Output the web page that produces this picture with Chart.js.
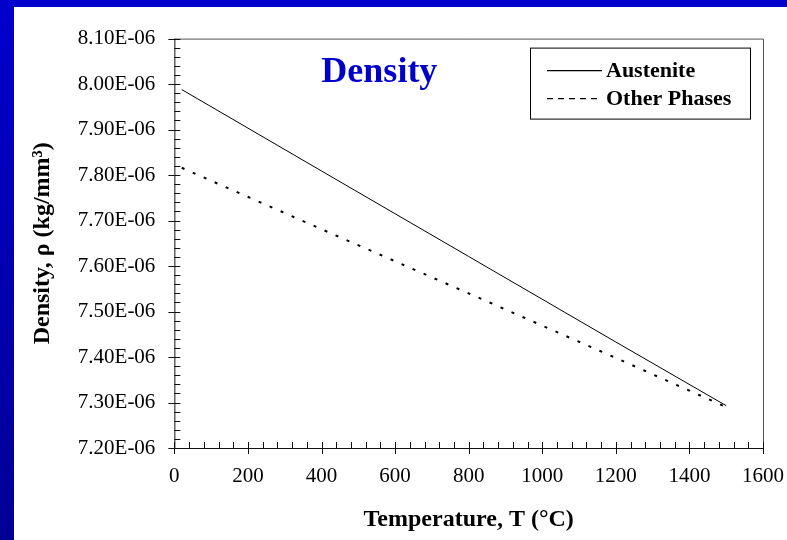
<!DOCTYPE html>
<html>
<head>
<meta charset="utf-8">
<script src="https://cdn.jsdelivr.net/npm/chart.js@4/dist/chart.umd.min.js"></script>
<style>
  html, body { margin: 0; padding: 0; }
  body { width: 787px; height: 540px; background: linear-gradient(to bottom, #0000cc, #000096); position: relative; overflow: hidden; }
  #wrap { position: absolute; left: 14px; top: 7px; width: 773px; height: 533px; background: #fff; }
</style>
</head>
<body>
<div id="wrap"><canvas id="canvas"></canvas></div>
<script>
// temperature in degrees C, density in kg/mm^3
var temps = [20, 400, 800, 1200, 1500];
var austenite = [7.988e-6, 7.809e-6, 7.621e-6, 7.433e-6, 7.293e-6];
var otherPhases = [7.816e-6, 7.681e-6, 7.540e-6, 7.398e-6, 7.290e-6];
var seriesNames = ['Austenite', 'Other Phases'];
var yTicks = [7.2e-6, 7.3e-6, 7.4e-6, 7.5e-6, 7.6e-6, 7.7e-6, 7.8e-6, 7.9e-6, 8.0e-6, 8.1e-6];
var xTicks = [0, 200, 400, 600, 800, 1000, 1200, 1400, 1600];

var serif = "'Liberation Serif', 'Times New Roman', serif";

function sci(v) {
  var e = Math.floor(Math.log10(Math.abs(v)) + 1e-9);
  var m = (v / Math.pow(10, e)).toFixed(2);
  var s = e < 0 ? '-' : '+';
  var ae = Math.abs(e);
  return m + 'E' + s + (ae < 10 ? '0' : '') + ae;
}

function pts(ys) {
  return temps.map(function (t, i) { return { x: t, y: ys[i] }; });
}

// frame, minor/major ticks, in-plot title and boxed legend
var decor = {
  id: 'decor',
  afterDraw: function (chart) {
    var c = chart.ctx, a = chart.chartArea;
    var xs = chart.scales.x, ys = chart.scales.y;
    c.save();
    c.lineWidth = 1;
    c.strokeStyle = '#555';
    c.beginPath();
    c.moveTo(a.left, a.top + 0.5); c.lineTo(a.right + 0.5, a.top + 0.5);
    c.lineTo(a.right + 0.5, a.bottom);
    c.stroke();
    c.strokeStyle = '#111';
    c.beginPath();
    c.moveTo(a.left + 0.5, a.top); c.lineTo(a.left + 0.5, a.bottom + 0.5);
    c.lineTo(a.right + 0.5, a.bottom + 0.5);
    c.stroke();

    c.beginPath();
    var i, p;
    for (i = 0; i <= 45; i++) {
      p = Math.round(ys.getPixelForValue(yTicks[0] + i * 0.02e-6)) + 0.5;
      c.moveTo(a.left - (i % 5 === 0 ? 6 : 0), p);
      c.lineTo(a.left + 6, p);
    }
    for (i = 0; i <= 40; i++) {
      p = Math.round(xs.getPixelForValue(xTicks[0] + i * 40)) + 0.5;
      c.moveTo(p, a.bottom + (i % 5 === 0 ? 6 : 0));
      c.lineTo(p, a.bottom - 6);
    }
    c.stroke();

    c.fillStyle = '#0000cc';
    c.font = 'bold 36px ' + serif;
    c.textAlign = 'center';
    c.textBaseline = 'alphabetic';
    c.fillText('Density', a.left + 205, a.top + 43);

    var bx = a.right - 233, by = a.top + 9, bw = 220, bh = 71;
    c.strokeStyle = '#000';
    c.strokeRect(bx + 0.5, by + 0.5, bw, bh);
    c.font = 'bold 22px ' + serif;
    c.textAlign = 'left';
    c.textBaseline = 'middle';
    c.fillStyle = '#000';
    chart.data.datasets.forEach(function (ds, k) {
      var ly = by + 23 + k * 28;
      c.beginPath();
      c.lineWidth = 1.2;
      c.setLineDash(k === 0 ? [] : [6, 5]);
      c.moveTo(bx + 17, ly); c.lineTo(bx + 72, ly);
      c.stroke();
      c.setLineDash([]);
      c.fillText(ds.label, bx + 76, ly + 1);
    });
    c.restore();
  }
};

var ctx = document.getElementById('canvas').getContext('2d');

var myChart = new Chart(ctx, {
  type: 'line',
  data: {
    datasets: [{
      label: seriesNames[0],
      data: pts(austenite),
      borderColor: '#000',
      borderWidth: 1,
      pointRadius: 0,
      fill: false
    }, {
      label: seriesNames[1],
      data: pts(otherPhases),
      borderColor: '#000',
      borderWidth: 2,
      borderDash: [3, 9],
      pointRadius: 0,
      fill: false
    }]
  },
  options: {
    responsive: true,
    maintainAspectRatio: false,
    animation: false,
    layout: { padding: { left: 12, right: 24, top: 31, bottom: 6 } },
    plugins: {
      legend: { display: false },
      tooltip: { enabled: false }
    },
    scales: {
      x: {
        type: 'linear',
        min: xTicks[0],
        max: xTicks[xTicks.length - 1],
        grid: { display: false, drawTicks: false },
        border: { display: false },
        afterFit: function (scale) { scale.paddingRight = 0; },
        ticks: {
          stepSize: 200,
          padding: 16,
          color: '#000',
          maxRotation: 0,
          font: { family: serif, size: 21 },
          callback: function (v) { return String(v); }
        },
        title: {
          display: true,
          text: 'Temperature, T (°C)',
          color: '#000',
          font: { family: serif, size: 24, weight: 'bold' },
          padding: { top: 0, bottom: 0 }
        }
      },
      y: {
        min: yTicks[0],
        max: yTicks[yTicks.length - 1],
        grid: { display: false, drawTicks: false },
        border: { display: false },
        ticks: {
          stepSize: 1e-7,
          padding: 19,
          color: '#000',
          font: { family: serif, size: 21 },
          callback: function (v) { return sci(v); }
        },
        title: {
          display: true,
          text: 'Density, ρ (kg/mm³)',
          color: '#000',
          font: { family: serif, size: 24, weight: 'bold' },
          padding: { top: 2, bottom: 2 }
        }
      }
    }
  },
  plugins: [decor]
});
</script>
</body>
</html>
